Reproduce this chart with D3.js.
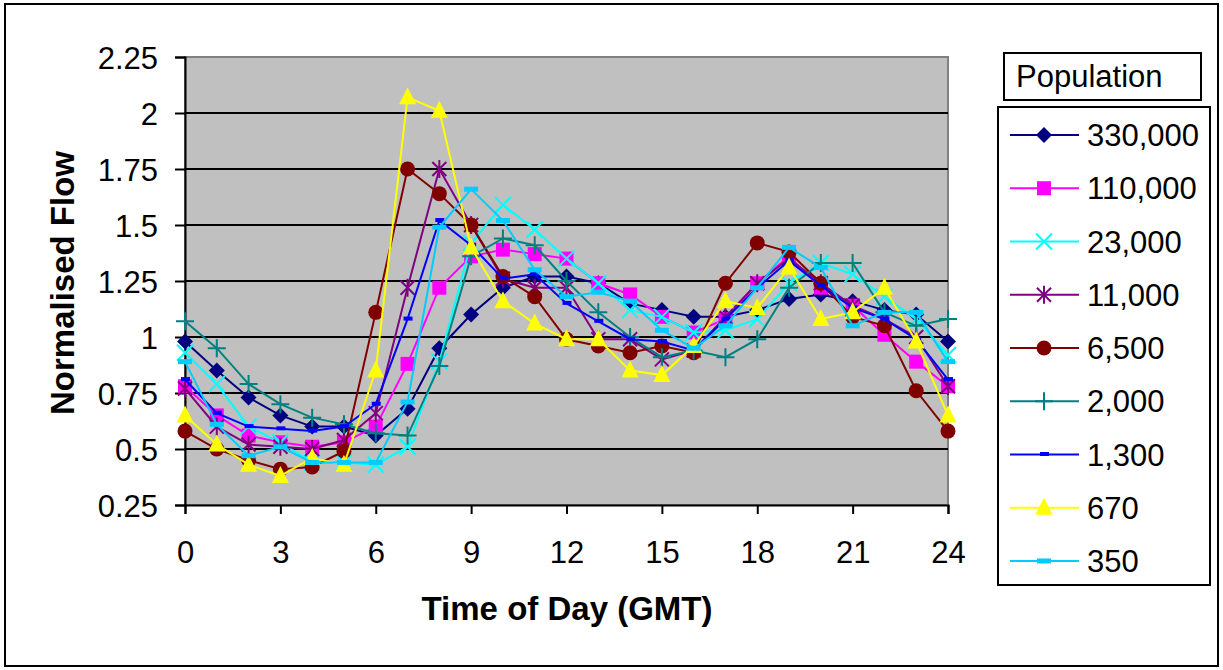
<!DOCTYPE html>
<html>
<head>
<meta charset="utf-8">
<script src="https://cdn.jsdelivr.net/npm/d3@7"></script>
<style>
  html, body { margin: 0; padding: 0; background: #fff; }
  svg { display: block; font-family: "Liberation Sans", Arial, sans-serif; }
</style>
</head>
<body>
<svg id="chart" width="1223" height="670"></svg>
<script>
// hours 0..24
const hours = d3.range(0, 25);
const xTicks = [0, 3, 6, 9, 12, 15, 18, 21, 24];
const yTicks = [0.25, 0.5, 0.75, 1, 1.25, 1.5, 1.75, 2, 2.25];

const populations = ["330,000", "110,000", "23,000", "11,000", "6,500", "2,000", "1,300", "670", "350"];

const pop330000 = [0.98, 0.85, 0.73, 0.65, 0.60, 0.60, 0.56, 0.68, 0.95, 1.10, 1.22, 1.27, 1.27, 1.24, 1.15, 1.12, 1.09, 1.09, 1.12, 1.17, 1.19, 1.16, 1.12, 1.10, 0.98];
const pop110000 = [0.78, 0.65, 0.56, 0.53, 0.51, 0.53, 0.60, 0.88, 1.22, 1.36, 1.39, 1.37, 1.35, 1.24, 1.19, 1.09, 1.02, 1.08, 1.24, 1.36, 1.22, 1.14, 1.01, 0.89, 0.78];
const pop23000 = [0.93, 0.79, 0.60, 0.53, 0.44, 0.44, 0.43, 0.51, 0.89, 1.42, 1.59, 1.48, 1.35, 1.24, 1.12, 1.09, 1.02, 1.03, 1.08, 1.24, 1.33, 1.28, 1.18, 1.08, 0.92];
const pop11000 = [0.77, 0.60, 0.52, 0.51, 0.50, 0.54, 0.66, 1.22, 1.75, 1.50, 1.26, 1.22, 1.22, 0.99, 0.99, 0.90, 0.94, 1.09, 1.24, 1.35, 1.24, 1.14, 1.08, 1.00, 0.78];
const pop6500 = [0.58, 0.50, 0.45, 0.41, 0.42, 0.49, 1.11, 1.75, 1.64, 1.50, 1.27, 1.18, 0.99, 0.96, 0.93, 0.96, 0.93, 1.24, 1.42, 1.38, 1.24, 1.09, 1.05, 0.76, 0.58];
const pop2000 = [1.07, 0.95, 0.79, 0.70, 0.64, 0.61, 0.57, 0.56, 0.87, 1.36, 1.44, 1.41, 1.25, 1.11, 1.00, 0.91, 0.94, 0.91, 0.99, 1.22, 1.33, 1.33, 1.11, 1.05, 1.08];
const pop1300 = [0.81, 0.66, 0.60, 0.59, 0.58, 0.60, 0.70, 1.08, 1.52, 1.41, 1.26, 1.28, 1.15, 1.07, 0.99, 0.98, 0.94, 1.08, 1.22, 1.34, 1.23, 1.13, 1.08, 0.99, 0.81];
const pop670 = [0.65, 0.52, 0.43, 0.38, 0.46, 0.43, 0.85, 2.07, 2.01, 1.40, 1.16, 1.06, 0.99, 0.99, 0.85, 0.83, 0.96, 1.16, 1.13, 1.31, 1.08, 1.11, 1.22, 0.98, 0.65];
const pop350 = [0.89, 0.61, 0.47, 0.51, 0.44, 0.44, 0.44, 0.71, 1.49, 1.66, 1.52, 1.30, 1.18, 1.20, 1.16, 1.03, 0.95, 1.05, 1.22, 1.40, 1.31, 1.05, 1.11, 1.11, 0.89];

const seriesValues = [pop330000, pop110000, pop23000, pop11000, pop6500, pop2000, pop1300, pop670, pop350];
const colors = ["#000080", "#ff00ff", "#00ffff", "#800080", "#800000", "#008080", "#0000ff", "#ffff00", "#00ccff"];
const markers = ["diamond", "square", "cross", "asterisk", "circle", "plus", "shortdash", "triangle", "dash"];

const svg = d3.select("#chart");

// outer frame
svg.append("rect")
    .attr("x", 5).attr("y", 4)
    .attr("width", 1213).attr("height", 662)
    .attr("fill", "#fff").attr("stroke", "#000").attr("stroke-width", 2);

const plot = { left: 185, right: 948, top: 57, bottom: 505 };

const x = d3.scaleLinear().domain([0, 24]).range([plot.left, plot.right]);
const y = d3.scaleLinear().domain([0.25, 2.25]).range([plot.bottom, plot.top]);

// plot area
svg.append("rect")
    .attr("x", plot.left).attr("y", plot.top)
    .attr("width", plot.right - plot.left).attr("height", plot.bottom - plot.top)
    .attr("fill", "#c0c0c0").attr("stroke", "#808080").attr("stroke-width", 2);

// gridlines
svg.append("g")
    .selectAll("line")
    .data(yTicks.filter(v => v > 0.25 && v < 2.25))
    .join("line")
    .attr("x1", plot.left).attr("x2", plot.right)
    .attr("y1", d => y(d)).attr("y2", d => y(d))
    .attr("stroke", "#000").attr("stroke-width", 2);

// axes
const yAxis = svg.append("g")
    .attr("transform", `translate(${plot.left},0)`)
    .call(d3.axisLeft(y).tickValues(yTicks).tickSize(10).tickPadding(17).tickFormat(d => String(d)));

const xAxis = svg.append("g")
    .attr("transform", `translate(0,${plot.bottom})`)
    .call(d3.axisBottom(x).tickValues(xTicks).tickSize(9).tickPadding(27).tickFormat(d => String(d)));

[yAxis, xAxis].forEach(a => {
    a.select(".domain").attr("stroke", "#000").attr("stroke-width", 2);
    a.selectAll(".tick line").attr("stroke", "#000").attr("stroke-width", 2);
    a.selectAll(".tick text")
        .attr("fill", "#000")
        .style("font-family", '"Liberation Sans", Arial, sans-serif')
        .style("font-size", "31px");
});
yAxis.selectAll(".tick text").attr("dy", "0.36em");

// axis titles
svg.append("text")
    .attr("x", 567).attr("y", 620)
    .attr("text-anchor", "middle")
    .style("font-size", "33px").style("font-weight", "bold")
    .text("Time of Day (GMT)");

svg.append("text")
    .attr("transform", "translate(74,283) rotate(-90)")
    .attr("text-anchor", "middle")
    .style("font-size", "33px").style("font-weight", "bold")
    .text("Normalised Flow");

function drawMarker(g, type, color) {
    switch (type) {
        case "diamond":
            g.append("path").attr("d", "M0,-8L8,0L0,8L-8,0Z").attr("fill", color);
            break;
        case "square":
            g.append("rect").attr("x", -7).attr("y", -7).attr("width", 14).attr("height", 14).attr("fill", color);
            break;
        case "cross":
            g.append("path").attr("d", "M-8,-8L8,8M-8,8L8,-8").attr("stroke", color).attr("stroke-width", 2).attr("fill", "none");
            break;
        case "asterisk":
            g.append("path").attr("d", "M-7,-7L7,7M-7,7L7,-7M0,-9V9").attr("stroke", color).attr("stroke-width", 2).attr("fill", "none");
            break;
        case "circle":
            g.append("circle").attr("r", 7.5).attr("fill", color);
            break;
        case "plus":
            g.append("path").attr("d", "M-9,0H9M0,-9V9").attr("stroke", color).attr("stroke-width", 2).attr("fill", "none");
            break;
        case "shortdash":
            g.append("rect").attr("x", -4).attr("y", -2.5).attr("width", 9).attr("height", 4).attr("fill", color);
            break;
        case "triangle":
            g.append("path").attr("d", "M0,-10L8.5,7L-8.5,7Z").attr("fill", color);
            break;
        case "dash":
            g.append("rect").attr("x", -7).attr("y", -2.5).attr("width", 14).attr("height", 5).attr("fill", color);
            break;
    }
}

const line = d3.line()
    .x((d, i) => x(hours[i]))
    .y(d => y(d));

const series = populations.map((name, k) => ({
    name,
    values: seriesValues[k],
    color: colors[k],
    marker: markers[k],
}));

const seriesG = svg.append("g")
    .selectAll("g.series")
    .data(series)
    .join("g")
    .attr("class", "series");

seriesG.each(function (s) {
    const g = d3.select(this);
    g.append("path")
        .attr("d", line(s.values))
        .attr("fill", "none")
        .attr("stroke", s.color)
        .attr("stroke-width", 2);
    s.values.forEach((v, i) => {
        const m = g.append("g").attr("transform", `translate(${x(hours[i])},${y(v)})`);
        drawMarker(m, s.marker, s.color);
    });
});

// legend title box
svg.append("rect")
    .attr("x", 1004).attr("y", 53)
    .attr("width", 197).attr("height", 47)
    .attr("fill", "#fff").attr("stroke", "#000").attr("stroke-width", 2);
svg.append("text")
    .attr("x", 1016).attr("y", 87)
    .style("font-size", "31px")
    .text("Population");

// legend
svg.append("rect")
    .attr("x", 998).attr("y", 107)
    .attr("width", 212).attr("height", 478)
    .attr("fill", "#fff").attr("stroke", "#000").attr("stroke-width", 2);

const legendY = d3.scalePoint().domain(populations).range([135, 561]);

const legendItems = svg.append("g")
    .selectAll("g")
    .data(series)
    .join("g")
    .attr("transform", d => `translate(0,${legendY(d.name)})`);

legendItems.append("line")
    .attr("x1", 1010).attr("x2", 1079)
    .attr("stroke", d => d.color).attr("stroke-width", 2);

legendItems.each(function (s) {
    const m = d3.select(this).append("g").attr("transform", "translate(1044,0)");
    drawMarker(m, s.marker, s.color);
});

legendItems.append("text")
    .attr("x", 1087).attr("dy", "0.36em")
    .style("font-size", "31px")
    .text(d => d.name);
</script>
</body>
</html>
